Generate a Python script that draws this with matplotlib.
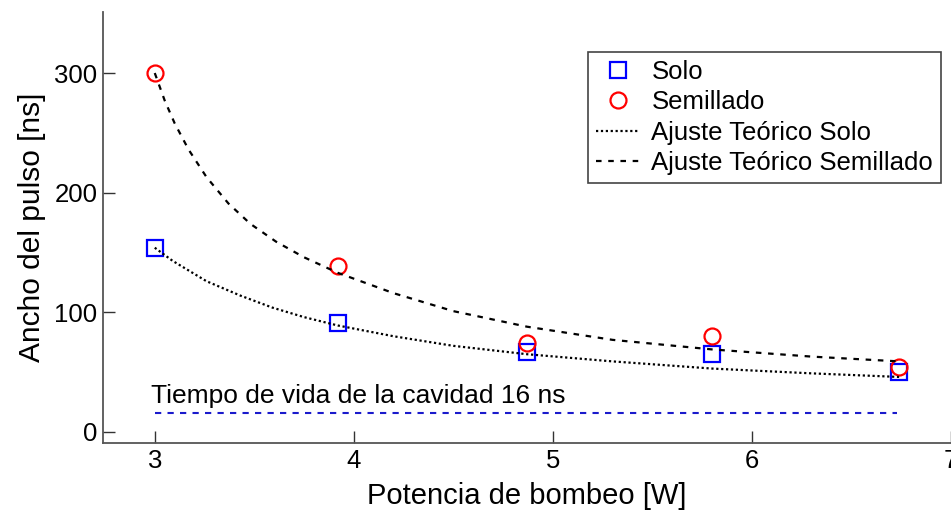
import matplotlib
matplotlib.use('Agg')
import matplotlib.pyplot as plt

plt.rcParams['font.family'] = ['Liberation Sans', 'DejaVu Sans']

# measured points
potencia = [3.0, 3.92, 4.87, 5.80, 6.74]
ancho_solo = [154, 91, 67, 65, 50]
ancho_semillado = [300, 139, 74, 80, 54]

# theoretical fits
fit_x_solo = [3.0, 3.09, 3.26, 3.43, 3.59, 3.75, 3.92, 4.2, 4.5, 4.87, 5.3, 5.8, 6.3, 6.74]
fit_y_solo = [154, 143, 126, 114, 104, 96, 89, 80, 72, 65, 59, 53, 49, 46]
fit_x_sem = [3.0, 3.05, 3.1, 3.17, 3.26, 3.37, 3.48, 3.61, 3.75, 3.92, 4.2, 4.5, 4.87, 5.3, 5.8, 6.3, 6.74]
fit_y_sem = [300, 277, 258, 236, 213, 191, 174, 159, 146, 133, 116, 101, 88, 77, 69, 63, 59]

# cavity lifetime line
vida_x = [3.0, 6.73]
vida_y = [16, 16]
vida_label = 'Tiempo de vida de la cavidad 16 ns'

fig = plt.figure(figsize=(9.51, 5.14), dpi=100)
ax = fig.add_axes([103 / 951, 71 / 514, 848 / 951, 431 / 514])

ax.plot(potencia, ancho_solo, 's', color='#0000ff', markerfacecolor='none',
        markersize=12, markeredgewidth=1.6, label='Solo')
ax.plot(potencia, ancho_semillado, 'o', color='#ff0000', markerfacecolor='none',
        markersize=11.5, markeredgewidth=1.6, label='Semillado')
ax.plot(fit_x_solo, fit_y_solo, color='black', linestyle=(0, (1, 1.2)),
        linewidth=1.6, label='Ajuste Teórico Solo')
ax.plot(fit_x_sem, fit_y_sem, color='black', linestyle=(0, (2.5, 3)),
        linewidth=1.6, label='Ajuste Teórico Semillado')

ax.plot(vida_x, vida_y, color='#1a1acc', linestyle=(0, (3, 3)), linewidth=1.5)
ax.text(2.98, 24, vida_label, fontsize=19, ha='left', va='baseline')

ax.set_xlim(2.74, 7.0)
ax.set_ylim(-9.2, 351)
ax.set_xticks([3, 4, 5, 6, 7])
ax.set_yticks([0, 100, 200, 300])

for side in ['top', 'right']:
    ax.spines[side].set_visible(False)
for side in ['left', 'bottom']:
    ax.spines[side].set_color('#555555')
    ax.spines[side].set_linewidth(1.3)
ax.tick_params(direction='in', length=8.5, width=1, color='#333333',
               labelsize=18.5, pad=4)

ax.set_xlabel('Potencia de bombeo [W]', fontsize=21, labelpad=7)
ax.set_ylabel('Ancho del pulso [ns]', fontsize=21.5, labelpad=6)

leg = ax.legend(loc='upper right', bbox_to_anchor=(0.988, 0.907),
                bbox_transform=ax.transAxes, fontsize=18.5, frameon=True,
                fancybox=False, framealpha=1, borderpad=0.3, labelspacing=0.25,
                handlelength=1.7, handletextpad=0.45, borderaxespad=0)
leg.get_frame().set_edgecolor('#444444')
leg.get_frame().set_linewidth(1.2)

fig.savefig('out.png', dpi=100)
